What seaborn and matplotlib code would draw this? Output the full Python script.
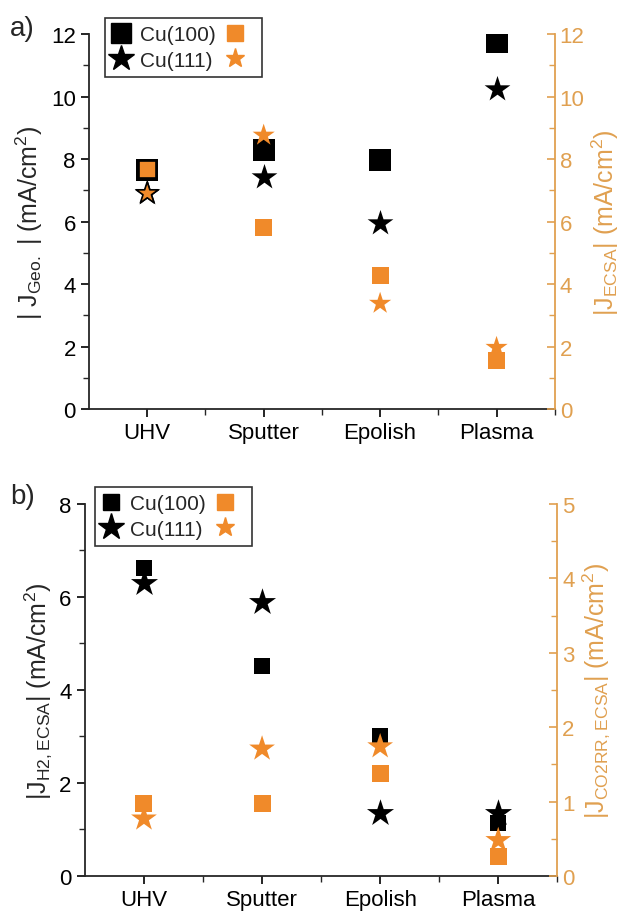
import numpy as np
import seaborn as sns
import matplotlib
matplotlib.use('Agg')
import matplotlib.pyplot as plt
from matplotlib.lines import Line2D

sns.set_style('ticks')
plt.rcParams['font.family'] = ['Liberation Sans', 'DejaVu Sans']
plt.rcParams['mathtext.default'] = 'regular'

cats = ['UHV', 'Sputter', 'Epolish', 'Plasma']

# panel a: geometric (black, left) and ECSA (orange, right)
geo_100 = [7.65, 8.3, 7.97, 11.75]
geo_111 = [6.9, 7.43, 5.96, 10.25]
ecsa_100 = [7.65, 5.8, 4.28, 1.55]
ecsa_111 = [6.9, 8.76, 3.38, 1.97]

# panel b: H2 (black, left) and CO2RR (orange, right)
h2_100 = [6.63, 4.52, 3.02, 1.14]
h2_111 = [6.3, 5.9, 1.36, 1.36]
co2_100 = [0.97, 0.98, 1.38, 0.26]
co2_111 = [0.77, 1.71, 1.74, 0.48]

ORANGE = '#f08a2a'
AXCOL = '#e0a050'

fig = plt.figure(figsize=(6.29, 9.12), dpi=100)
ax1 = fig.add_axes([0.1415, 0.5504, 0.7405, 0.4112])
ax2 = fig.add_axes([0.135, 0.0384, 0.751, 0.4079])


def panel(ax, k100, k111, o100, o111, ylim_l, ylim_r, ticks_l, ticks_r,
          lab_l, lab_r, sizes, edge_uhv):
    axr = ax.twinx()
    sns.scatterplot(x=cats, y=k100, marker='s', s=sizes[0], color='black',
                    linewidth=0, ax=ax, legend=False)
    sns.scatterplot(x=cats, y=k111, marker='*', s=sizes[1], color='black',
                    linewidth=0, ax=ax, legend=False)
    ec = ['black' if (edge_uhv and i == 0) else 'none' for i in range(4)]
    lw = [1.2 if (edge_uhv and i == 0) else 0 for i in range(4)]
    sns.scatterplot(x=cats, y=o100, marker='s', s=sizes[2], color=ORANGE,
                    edgecolor=ec, linewidth=lw, ax=axr, legend=False)
    sns.scatterplot(x=cats, y=o111, marker='*', s=sizes[3], color=ORANGE,
                    edgecolor=ec, linewidth=lw, ax=axr, legend=False)
    ax.set_xlim(-0.5, 3.47)
    ax.set_ylim(*ylim_l)
    axr.set_ylim(*ylim_r)
    ax.set_yticks(ticks_l)
    axr.set_yticks(ticks_r)
    ax.set_yticks(np.arange(ylim_l[0], ylim_l[1] + 0.01, (ticks_l[1] - ticks_l[0]) / 2), minor=True)
    axr.set_yticks(np.arange(ylim_r[0], ylim_r[1] + 0.01, (ticks_r[1] - ticks_r[0]) / 2), minor=True)
    ax.set_xticks([0.5, 1.5, 2.5, 3.5], minor=True)
    ax.tick_params(axis='both', which='major', labelsize=16, direction='out',
                   length=6, width=1.2, colors='black')
    ax.tick_params(axis='both', which='minor', direction='out', length=4, width=1.0)
    axr.tick_params(axis='y', which='major', labelsize=16, direction='in',
                    length=6, width=1.2, colors=AXCOL, labelcolor=AXCOL)
    axr.tick_params(axis='y', which='minor', direction='in', length=4,
                    width=1.0, colors=AXCOL)
    for a in (ax, axr):
        a.spines['top'].set_visible(False)
    ax.spines['right'].set_visible(False)
    axr.spines['left'].set_visible(False)
    axr.spines['bottom'].set_visible(False)
    axr.spines['right'].set_color(AXCOL)
    axr.spines['right'].set_linewidth(1.3)
    ax.spines['left'].set_linewidth(1.3)
    ax.spines['bottom'].set_linewidth(1.3)
    ax.set_xlabel('')
    ax.set_ylabel(lab_l, fontsize=18, labelpad=4)
    axr.set_ylabel(lab_r, fontsize=18, color=AXCOL, labelpad=4)
    return axr


panel(ax1, geo_100, geo_111, ecsa_100, ecsa_111, (0, 12), (0, 12),
      [0, 2, 4, 6, 8, 10, 12], [0, 2, 4, 6, 8, 10, 12],
      '| J$_{Geo.}$ | (mA/cm$^2$)', '|J$_{ECSA}$| (mA/cm$^2$)',
      (260, 380, 150, 280), True)
panel(ax2, h2_100, h2_111, co2_100, co2_111, (0, 8), (0, 5),
      [0, 2, 4, 6, 8], [0, 1, 2, 3, 4, 5],
      '|J$_{H2,ECSA}$| (mA/cm$^2$)', '|J$_{CO2RR,ECSA}$| (mA/cm$^2$)',
      (120, 420, 150, 380), False)


def legend(ax, anchor, ks, kst):
    h = [Line2D([], [], marker='s', ms=ks, color='black', ls=''),
         Line2D([], [], marker='*', ms=kst, color='black', ls=''),
         Line2D([], [], marker='s', ms=12, color=ORANGE, ls=''),
         Line2D([], [], marker='*', ms=14, color=ORANGE, ls='')]
    leg = fig.legend(h, ['Cu(100)', 'Cu(111)', '', ''], ncol=2, loc='upper left',
                     bbox_to_anchor=anchor, fontsize=15, frameon=True,
                     fancybox=False, edgecolor='black', handlelength=0.8,
                     handletextpad=0.55, columnspacing=0.5, borderpad=0.35,
                     labelspacing=0.3, borderaxespad=0)
    leg.get_frame().set_linewidth(1.2)


legend(ax1, (105 / 629, 1 - 19 / 912), 15, 19)
legend(ax2, (95 / 629, 1 - 488 / 912), 11, 20)

fig.text(10 / 629, 1 - 42 / 912, 'a)', fontsize=20, va='bottom')
fig.text(10 / 629, 1 - 510 / 912, 'b)', fontsize=20, va='bottom')

fig.savefig('out.png', dpi=100)
